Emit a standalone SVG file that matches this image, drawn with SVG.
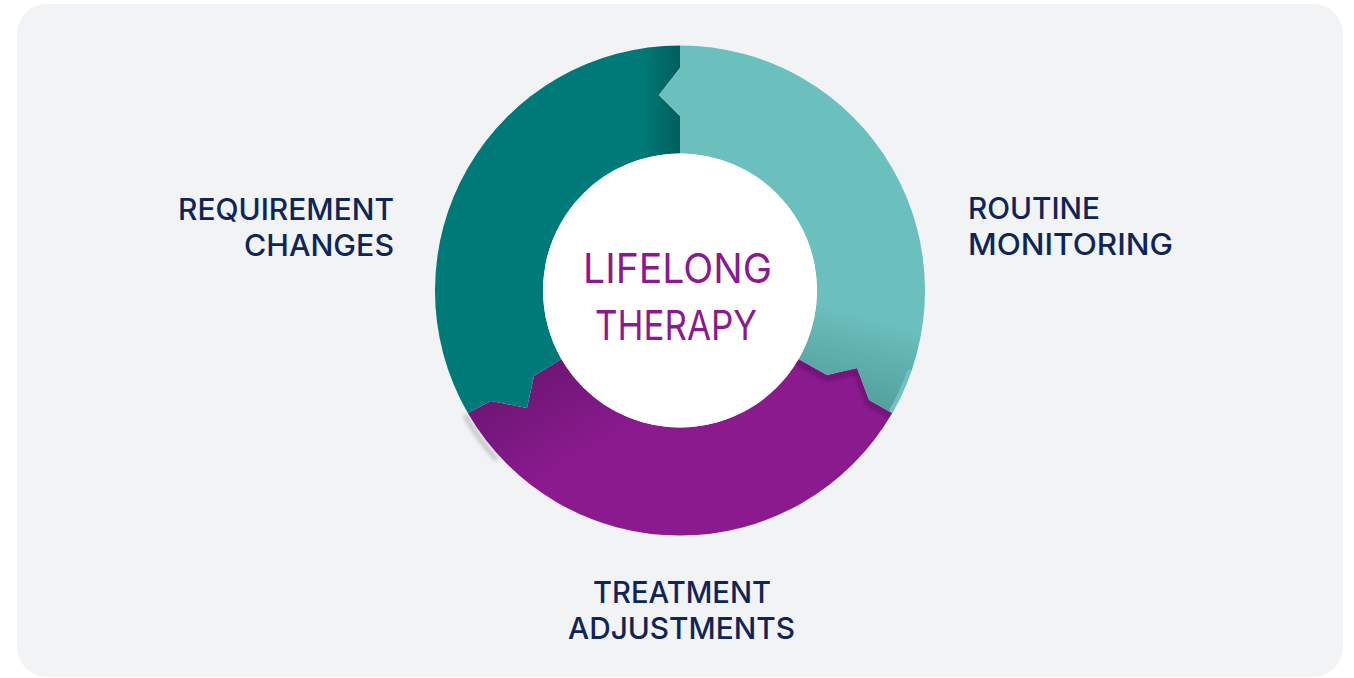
<svg xmlns="http://www.w3.org/2000/svg" width="1354" height="678" viewBox="0 0 1354 678">
<style>
.lbl{font-family:Inter,"Liberation Sans",sans-serif;font-size:30px;font-weight:500;fill:#0f2557}
.ctr{font-family:Inter,"Liberation Sans",sans-serif;font-size:41px;font-weight:400;fill:#8b1a8f}
</style>
<defs>
<linearGradient id="gDark" gradientUnits="userSpaceOnUse" x1="640" y1="0" x2="680" y2="0">
<stop offset="0" stop-color="#007a78"/><stop offset="1" stop-color="#005f5d"/>
</linearGradient>
<linearGradient id="gLight" gradientUnits="userSpaceOnUse" x1="862" y1="315" x2="840" y2="398">
<stop offset="0" stop-color="#6bbfbc"/><stop offset="1" stop-color="#53a09d"/>
</linearGradient>
<linearGradient id="gPurple" gradientUnits="userSpaceOnUse" x1="515" y1="385" x2="565" y2="470">
<stop offset="0" stop-color="#6f1675"/><stop offset="1" stop-color="#8b1a8f"/>
</linearGradient>
<filter id="blur" x="-20%" y="-20%" width="140%" height="140%"><feGaussianBlur stdDeviation="2"/></filter>
<clipPath id="clipPurple"><path d="M 467.8 413 A 245 245 0 0 0 892.2 413 L 869 400 L 857 368 L 827 375 L 798.6 359 A 137 137 0 0 1 561.4 359 L 534 376 L 527 408 L 491 401 Z"/></clipPath>
</defs>
<rect x="17" y="4" width="1326" height="673" rx="30" fill="#f1f3f5"/>
<g id="ring">
<path d="M 467.8 413 A 245 245 0 0 0 500 458" fill="none" stroke="#b9bcbf" stroke-width="4" filter="url(#blur)" transform="translate(-3,2)"/>
<g id="seg-treatment">
<path d="M 467.8 413 A 245 245 0 0 0 892.2 413 L 869 400 L 857 368 L 827 375 L 798.6 359 A 137 137 0 0 1 561.4 359 L 534 376 L 527 408 L 491 401 Z" fill="url(#gPurple)"/>
<g clip-path="url(#clipPurple)">
<path d="M 796 358 L 827 375 L 857 368 L 869 400 L 892 413" fill="none" stroke="#5e1163" stroke-width="5" opacity="0.7" filter="url(#blur)" transform="translate(0,3)"/>
</g>
</g>
<g id="seg-requirement">
<path d="M 680 45.5 A 245 245 0 0 0 467.8 413 L 491 401 L 527 408 L 534 376 L 561.4 359 A 137 137 0 0 1 680 153.5 L 680 116 L 659 95 L 680 68 Z" fill="url(#gDark)"/>
</g>
<g id="seg-routine">
<path d="M 680 45.5 A 245 245 0 0 1 892.2 413 L 869 400 L 857 368 L 827 375 L 798.6 359 A 137 137 0 0 0 680 153.5 L 680 116 L 659 95 L 680 68 Z" fill="url(#gLight)"/>
<path d="M 911.7 370 A 245 245 0 0 1 892.2 413 L 888.7 411 A 241 241 0 0 0 907.5 370 Z" fill="#74c2bf"/>
</g>
</g>
<g id="center">
<circle cx="680" cy="290.5" r="137" fill="#ffffff"/>
<text class="ctr" x="677.5" y="283" text-anchor="middle" textLength="189" lengthAdjust="spacingAndGlyphs">LIFELONG</text>
<text class="ctr" x="676" y="340" text-anchor="middle" textLength="162" lengthAdjust="spacingAndGlyphs">THERAPY</text>
</g>
<g id="label-requirement">
<text class="lbl" x="394" y="220" text-anchor="end" textLength="216" lengthAdjust="spacingAndGlyphs">REQUIREMENT</text>
<text class="lbl" x="394" y="256" text-anchor="end" textLength="150" lengthAdjust="spacingAndGlyphs">CHANGES</text>
</g>
<g id="label-routine">
<text class="lbl" x="968" y="219" textLength="132" lengthAdjust="spacingAndGlyphs">ROUTINE</text>
<text class="lbl" x="968" y="255" textLength="205" lengthAdjust="spacingAndGlyphs">MONITORING</text>
</g>
<g id="label-treatment">
<text class="lbl" x="682" y="602.5" text-anchor="middle" textLength="178" lengthAdjust="spacingAndGlyphs">TREATMENT</text>
<text class="lbl" x="681.5" y="638.5" text-anchor="middle" textLength="227" lengthAdjust="spacingAndGlyphs">ADJUSTMENTS</text>
</g>
<g id="connectors"/>
</svg>
